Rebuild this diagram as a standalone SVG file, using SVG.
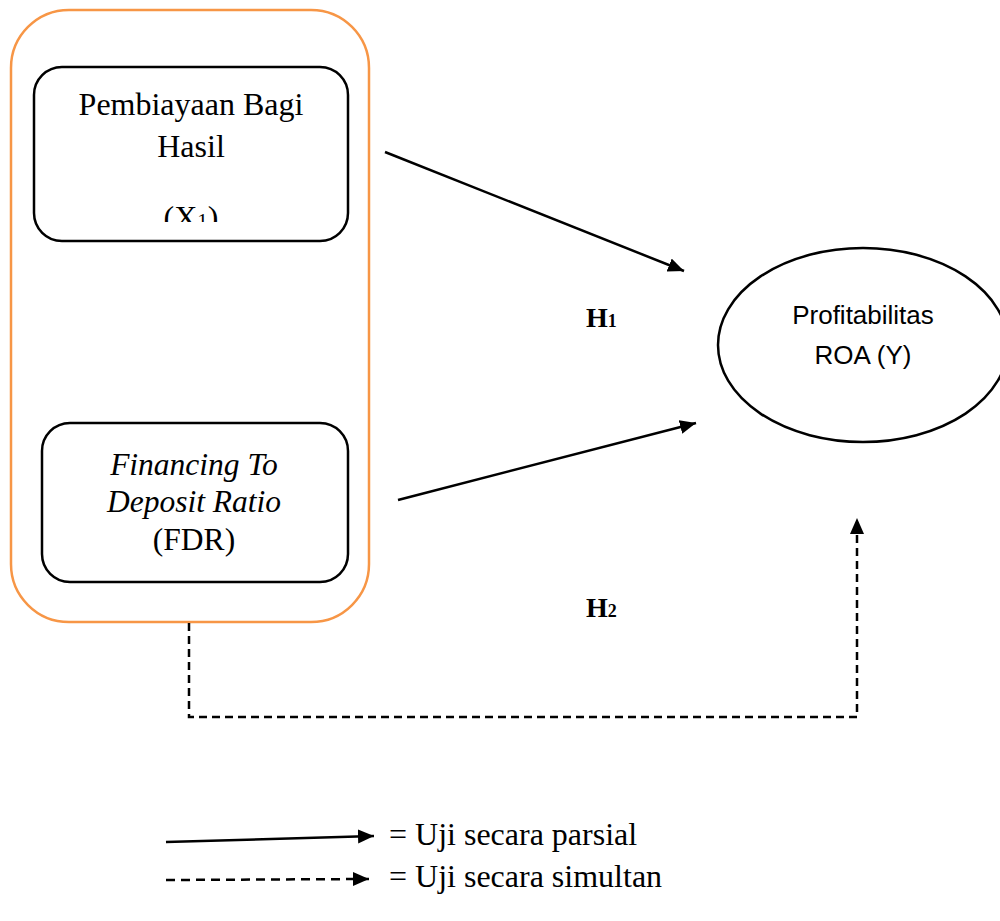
<svg xmlns="http://www.w3.org/2000/svg" width="1000" height="921" viewBox="0 0 1000 921">
<style>
.serif{font-family:"Liberation Serif","Times New Roman",serif;fill:#000}
.sans{font-family:"Liberation Sans",Arial,sans-serif;fill:#000}
.box{fill:#fff;stroke:#000;stroke-width:2.5}
.line{fill:none;stroke:#000;stroke-width:2.5}
.dash{fill:none;stroke:#000;stroke-width:2.5;stroke-dasharray:8 5}
.dash2{fill:none;stroke:#000;stroke-width:2.5;stroke-dasharray:9 6}
</style>
<defs>
<marker id="ah" markerUnits="userSpaceOnUse" markerWidth="17" markerHeight="15" refX="16" refY="7" orient="auto">
<path d="M0,0 L16,7 L0,14 z" fill="#000"/>
</marker>
<clipPath id="clipX1"><rect x="34" y="60" width="314" height="162"/></clipPath>
</defs>
<rect width="1000" height="921" fill="#fff"/>
<g id="group-x">
<rect x="11" y="10" width="358" height="612" rx="58" ry="58" fill="none" stroke="#F79646" stroke-width="2.5"/>
</g>
<g id="node-x1">
<rect class="box" x="34" y="67" width="314" height="174" rx="28" ry="28"/>
<text class="serif" x="191" y="115" font-size="32" text-anchor="middle">Pembiayaan Bagi</text>
<text class="serif" x="191" y="157" font-size="32" text-anchor="middle">Hasil</text>
<text class="serif" x="191" y="228" font-size="32" text-anchor="middle" clip-path="url(#clipX1)">(X<tspan font-size="21">1</tspan>)</text>
</g>
<g id="node-x2">
<rect class="box" x="42" y="423" width="306" height="159" rx="28" ry="28"/>
<text class="serif" x="194" y="475" font-size="31.5" font-style="italic" text-anchor="middle">Financing To</text>
<text class="serif" x="194" y="512" font-size="31.5" font-style="italic" text-anchor="middle">Deposit Ratio</text>
<text class="serif" x="194" y="550" font-size="31.5" text-anchor="middle">(FDR)</text>
</g>
<g id="node-y">
<ellipse cx="863" cy="345" rx="145" ry="97" fill="#fff" stroke="#000" stroke-width="2.5"/>
<text class="sans" x="863" y="324" font-size="26" text-anchor="middle">Profitabilitas</text>
<text class="sans" x="863" y="364" font-size="26" text-anchor="middle">ROA (Y)</text>
</g>
<g id="connectors">
<line class="line" x1="385" y1="152" x2="684" y2="271" marker-end="url(#ah)"/>
<line class="line" x1="398" y1="500" x2="696" y2="423" marker-end="url(#ah)"/>
<polyline class="dash" points="189,623 189,717 857,717 857,518" marker-end="url(#ah)"/>
</g>
<g id="labels">
<text class="serif" x="586" y="327" font-size="28" font-weight="bold">H<tspan font-size="18">1</tspan></text>
<text class="serif" x="586" y="617" font-size="28" font-weight="bold">H<tspan font-size="18">2</tspan></text>
</g>
<g id="legend">
<line class="line" x1="166" y1="842" x2="374" y2="836" marker-end="url(#ah)"/>
<text class="serif" x="389" y="845" font-size="32">= Uji secara parsial</text>
<line class="dash2" x1="166" y1="880" x2="369" y2="879" marker-end="url(#ah)"/>
<text class="serif" x="389" y="887" font-size="32">= Uji secara simultan</text>
</g>
</svg>
